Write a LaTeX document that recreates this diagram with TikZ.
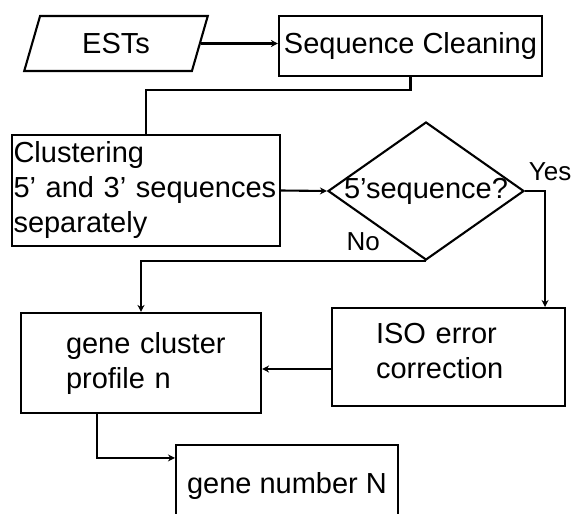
\documentclass[tikz,border=0pt]{standalone}
\usepackage{fontspec}
\setmainfont{Liberation Sans}
\usetikzlibrary{arrows.meta,shapes.geometric}

\begin{document}
\begin{tikzpicture}[x=1pt, y=-1pt, line width=2.1pt,
  box/.style={draw, line width=2.1pt, inner sep=0pt, align=left,
              font=\fontsize{29}{35}\selectfont},
  lab/.style={inner sep=0pt, font=\fontsize{26}{30}\selectfont},
  >={Stealth[length=7pt,width=7pt]}]
\useasboundingbox (0,0) rectangle (576,514);
\clip (0,0) rectangle (576,514);
\node[box, trapezium, trapezium left angle=71, trapezium right angle=109,
      trapezium stretches=true, minimum width=184pt, minimum height=55pt]
  (ests) at (116,43.5) {ESTs};
\node[box, minimum width=263pt, minimum height=60pt] (clean) at (410.5,46)
  {Sequence Cleaning};
\node[box, text width=265pt, inner xsep=1.5pt, minimum height=111pt]
  (cluster) at (146,190.5)
  {Clustering\\\mbox{5’ and 3’ sequences}\\separately};
\node[box, diamond, minimum width=196pt, minimum height=138pt]
  (decide) at (426,191) {\makebox[0pt]{5’sequence?}};
\node[box, text width=150pt, inner xsep=45pt, minimum height=100pt]
  (profile) at (141,363) {\mbox{gene cluster}\\profile n};
\node[box, text width=145pt, inner xsep=44pt, minimum height=98pt,
      text depth=47pt] (iso) at (448.5,357) {ISO error\\correction};
\node[box, minimum width=222pt, minimum height=82pt] (count) at (287,486)
  {gene number N};
\draw[->] (ests.east) -- (ests.east -| clean.west);
\draw (clean.south) -- ++(0,13) -| (cluster.north);
\draw[->] (cluster.east) -- (decide.west);
\draw[->] (decide.east) -| node[lab, pos=0.5, above=9pt, xshift=5pt]{Yes}
  ([xshift=-21pt]iso.north east);
\draw[->] (decide.south) -| node[lab, pos=0.11, above=9pt]{No} (profile.north);
\draw[->] ([yshift=-12pt]iso.west) -- ([yshift=-12pt]iso.west -| profile.east);
\draw[->] ([xshift=-44pt]profile.south) |- ([yshift=-14pt]count.north west);
\end{tikzpicture}
\end{document}
